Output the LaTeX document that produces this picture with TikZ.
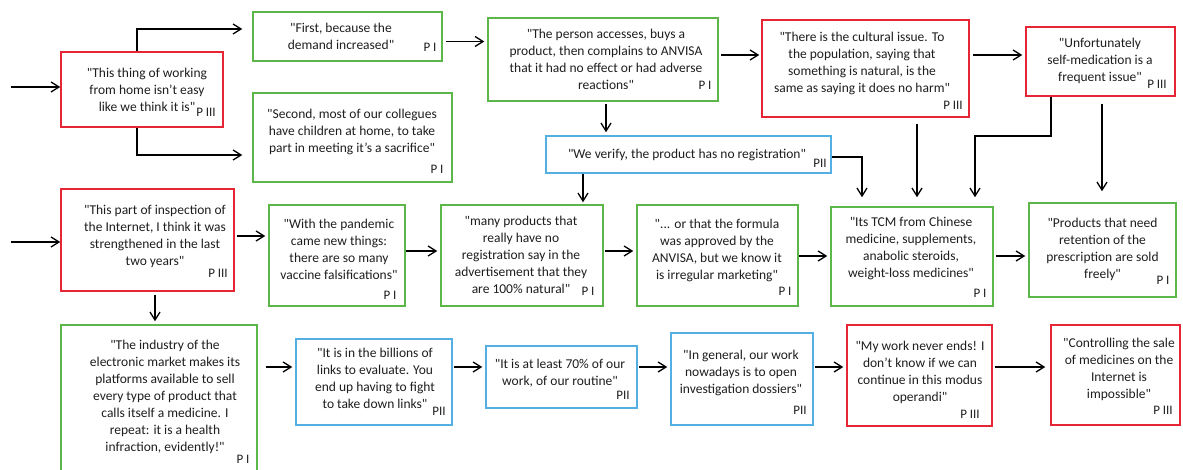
\documentclass[tikz,border=0pt]{standalone}
\usepackage{fontspec}
\setmainfont{Carlito}[Ligatures=TeXOff]
\usetikzlibrary{arrows.meta,fit}
\definecolor{redc}{RGB}{230,38,52}
\definecolor{greenc}{RGB}{92,182,72}
\definecolor{bluec}{RGB}{84,176,226}
\definecolor{txtc}{RGB}{30,30,30}
\begin{document}
\begin{tikzpicture}[x=1pt,y=-1pt,
  boxbase/.style={draw, line width=1.5pt, inner sep=0pt},
  redbox/.style={boxbase, draw=redc},
  greenbox/.style={boxbase, draw=greenc},
  bluebox/.style={boxbase, draw=bluec},
  txt/.style={align=center, inner sep=0pt, text=txtc, font=\fontsize{13.5}{17}\selectfont},
  plab/.style={inner sep=0pt, text=txtc, font=\fontsize{13}{15}\selectfont},
  arr/.style={line width=1.3pt, -{Straight Barb[length=8pt,width=10pt,line width=1.3pt]}}
]
\useasboundingbox (0,0) rectangle (1183,470);
\fill[white] (0,0) rectangle (1183,470);

% boxes
\node[redbox,   fit={(61,52) (223,127)}]    (b1) {};
\node[greenbox, fit={(253,12) (442,61)}]    (b2) {};
\node[greenbox, fit={(253,93) (452,182)}]   (b3) {};
\node[greenbox, fit={(488,18) (718,101)}]   (b4) {};
\node[redbox,   fit={(762,20) (969,117)}]   (b5) {};
\node[redbox,   fit={(1026,27) (1175,96)}]  (b6) {};
\node[bluebox,  fit={(546,136) (831,173)}]  (b7) {};
\node[redbox,   fit={(61,189) (234,291)}]   (b8) {};
\node[greenbox, fit={(269,205) (405,306)}]  (b9) {};
\node[greenbox, fit={(441,205) (603,306)}]  (b10) {};
\node[greenbox, fit={(637,205) (798,306)}]  (b11) {};
\node[greenbox, fit={(831,207) (993,306)}]  (b12) {};
\node[greenbox, fit={(1029,203) (1176,297)}] (b13) {};
\node[greenbox, fit={(61,325) (257,480)}]   (b14) {};
\node[bluebox,  fit={(296,339) (452,425)}]  (b15) {};
\node[bluebox,  fit={(486,346) (637,408)}]  (b16) {};
\node[bluebox,  fit={(671,333) (813,425)}]  (b17) {};
\node[redbox,   fit={(847,325) (992,426)}]  (b18) {};
\node[redbox,   fit={(1051,325) (1180,425)}] (b19) {};

% texts
\node[txt] (t1) at (147,90) {"This thing of working\\from home isn’t easy\\like we think it is"};
\node[txt] (t2) at (341,36) {"First, because the\\demand increased"};
\node[txt] (t3) at (352,132) {"Second, most of our collegues\\have children at home, to take\\part in meeting it’s a sacrifice"};
\node[txt] (t4) at (606,59) {"The person accesses, buys a\\product, then complains to ANVISA\\that it had no effect or had adverse\\reactions"};
\node[txt] (t5) at (862,63.5) {"There is the cultural issue. To\\the population, saying that\\something is natural, is the\\same as saying it does no harm"};
\node[txt] (t6) at (1100,60.5) {"Unfortunately\\self-medication is a\\frequent issue"};
\node[txt] (t7) at (687,155) {"We verify, the product has no registration"};
\node[txt] (t8) at (155,236) {"This part of inspection of\\the Internet, I think it was\\strengthened in the last\\two years"};
\node[txt] (t9) at (339,249) {"With the pandemic\\came new things:\\there are so many\\vaccine falsifications"};
\node[txt] (t10) at (521,255) {"many products that\\really have no\\registration say in the\\advertisement that they\\are 100\% natural"};
\node[txt] (t11) at (717,250.5) {"... or that the formula\\was approved by the\\ANVISA, but we know it\\is irregular marketing"};
\node[txt] (t12) at (911,248.5) {"Its TCM from Chinese\\medicine, supplements,\\anabolic steroids,\\weight-loss medicines"};
\node[txt] (t13) at (1102.5,249) {"Products that need\\retention of the\\prescription are sold\\freely"};
\node[txt] (t14) at (165,397) {"The industry of the\\electronic market makes its\\platforms available to sell\\every type of product that\\calls itself a medicine. I\\repeat: it is a health\\infraction, evidently!"};
\node[txt] (t15) at (375,378) {"It is in the billions of\\links to evaluate. You\\end up having to fight\\to take down links"};
\node[txt] (t16) at (560,373.5) {"It is at least 70\% of our\\work, of our routine"};
\node[txt] (t17) at (741,373) {"In general, our work\\nowadays is to open\\investigation dossiers"};
\node[txt] (t18) at (920,372.5) {"My work never ends! I\\don’t know if we can\\continue in this modus\\operandi"};
\node[txt] (t19) at (1119,369) {"Controlling the sale\\of medicines on the\\Internet is\\impossible"};

% participant labels
\node[plab] (p1) at (206,112) {P III};
\node[plab] (p2) at (430,47) {P I};
\node[plab] (p3) at (437,169) {P I};
\node[plab] (p4) at (705,85) {P I};
\node[plab] (p5) at (953,105) {P III};
\node[plab] (p6) at (1157,84) {P III};
\node[plab] (p7) at (820,163) {PII};
\node[plab] (p8) at (218,273) {P III};
\node[plab] (p9) at (390,295) {P I};
\node[plab] (p10) at (588,291) {P I};
\node[plab] (p11) at (785,291) {P I};
\node[plab] (p12) at (980,293) {P I};
\node[plab] (p13) at (1163,280) {P I};
\node[plab] (p14) at (243,459) {P I};
\node[plab] (p15) at (439,411) {PII};
\node[plab] (p16) at (623,395) {PII};
\node[plab] (p17) at (800,410) {PII};
\node[plab] (p18) at (970,414) {P III};
\node[plab] (p19) at (1163,410) {P III};

% free ends
\coordinate (in1) at (11,87);
\coordinate (in2) at (11,242);

% connectors
\draw[arr] (in1) -- (b1.west |- in1);
\draw[arr, shorten >=10pt] (b1.north -| 137,0) |- (b2.west |- 0,29);
\draw[arr, shorten >=10pt] (b1.south -| 137,0) |- (b3.west |- 0,155);
\draw[arr, shorten <=3pt, shorten >=3pt] (b2.east |- 0,41.5) -- (b4.west |- 0,41.5);
\draw[arr, shorten <=2pt, shorten >=2pt] (b4.east |- 0,55) -- (b5.west |- 0,55);
\draw[arr, shorten <=3pt, shorten >=3pt] (b5.east |- 0,55) -- (b6.west |- 0,55);
\draw[arr, shorten <=2pt, shorten >=3pt] (b4.south -| 606,0) -- (b7.north -| 606,0);
\draw[arr, shorten >=2pt] (b7.south -| 583,0) -- (b10.north -| 583,0);
\draw[arr, shorten >=9pt] (b7.east |- 0,157) -| (b12.north -| 862,0);
\draw[arr, shorten <=6pt, shorten >=9pt] (b5.south -| 917,0) -- (b12.north -| 917,0);
\draw[arr, shorten >=9pt] (b6.south -| 1051,0) |- (975,136) -- (b12.north -| 975,0);
\draw[arr, shorten <=7pt, shorten >=11pt] (b6.south -| 1102,0) -- (b13.north -| 1102,0);
\draw[arr] (in2) -- (b8.west |- in2);
\draw[arr, shorten <=2pt, shorten >=3pt] (b8.east |- 0,236) -- (b9.west |- 0,236);
\draw[arr, shorten >=3pt] (b9.east |- 0,251) -- (b10.west |- 0,251);
\draw[arr, shorten <=1pt, shorten >=3pt] (b10.east |- 0,251) -- (b11.west |- 0,251);
\draw[arr, shorten >=3pt] (b11.east |- 0,256) -- (b12.west |- 0,256);
\draw[arr, shorten <=2pt, shorten >=3pt] (b12.east |- 0,256) -- (b13.west |- 0,256);
\draw[arr, shorten <=3pt, shorten >=3pt] (b8.south -| 155,0) -- (b14.north -| 155,0);
\draw[arr, shorten <=8pt, shorten >=3pt] (b14.east |- 0,367) -- (b15.west |- 0,367);
\draw[arr, shorten <=1pt, shorten >=3pt] (b15.east |- 0,367) -- (b16.west |- 0,367);
\draw[arr, shorten <=1pt, shorten >=3pt] (b16.east |- 0,367) -- (b17.west |- 0,367);
\draw[arr, shorten <=1pt, shorten >=3pt] (b17.east |- 0,367) -- (b18.west |- 0,367);
\draw[arr, shorten <=2pt, shorten >=5pt] (b18.east |- 0,367) -- (b19.west |- 0,367);
\end{tikzpicture}
\end{document}
